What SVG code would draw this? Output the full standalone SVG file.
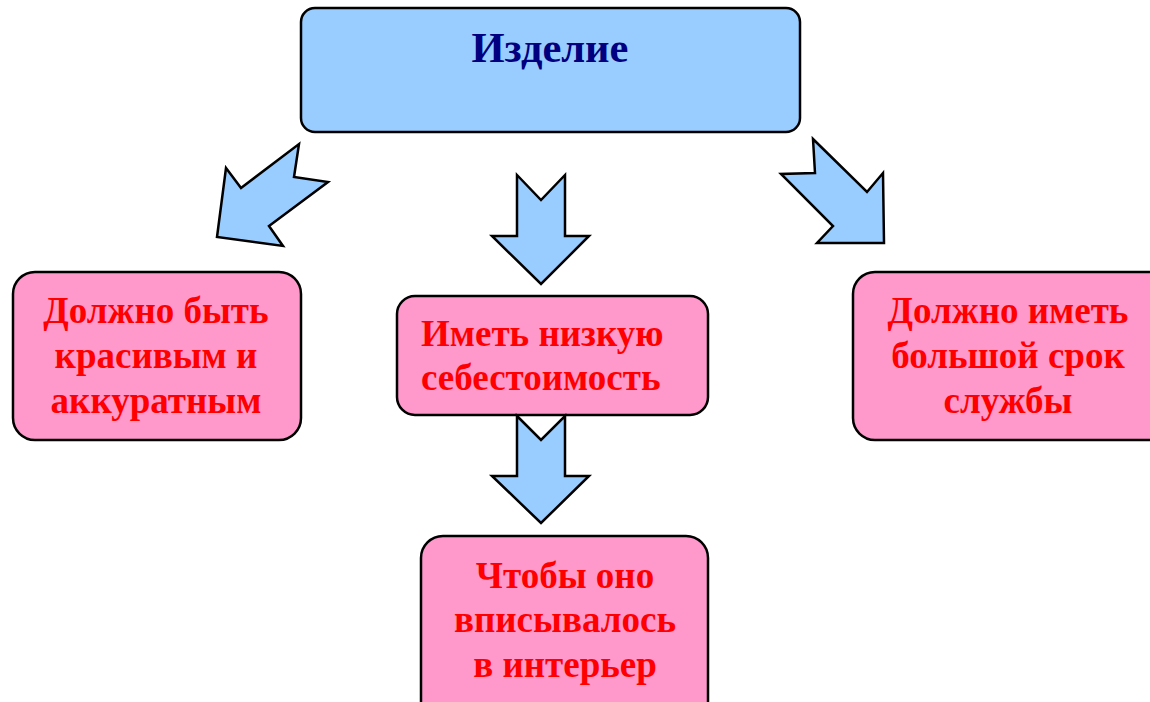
<svg xmlns="http://www.w3.org/2000/svg" width="1150" height="702" viewBox="0 0 1150 702">
<style>
.blue{fill:#99ccff;stroke:#000;stroke-width:2.5;stroke-linejoin:miter}
.pink{fill:#ff99cc;stroke:#000;stroke-width:2.5}
.t{font-family:"Liberation Serif","Times New Roman",serif;font-weight:bold;font-size:37px;fill:#ff0000}
.c{text-anchor:middle}
.title{font-family:"Liberation Serif","Times New Roman",serif;font-weight:bold;font-size:42.5px;fill:#000080;text-anchor:middle}
</style>
<rect width="1150" height="702" fill="#fff"/>
<g id="node-izdelie">
<rect class="blue" x="301" y="8" width="499" height="124" rx="14"/>
<text class="title" x="550" y="62">Изделие</text>
</g>
<g id="node-left">
<rect class="pink" x="13" y="272" width="288" height="168" rx="22"/>
<text class="t c" x="156" y="323">Должно быть</text>
<text class="t c" x="156" y="368">красивым и</text>
<text class="t c" x="156" y="413">аккуратным</text>
</g>
<g id="node-middle">
<rect class="pink" x="397" y="296" width="311" height="119" rx="18"/>
<text class="t" x="421" y="346">Иметь низкую</text>
<text class="t" x="421" y="390">себестоимость</text>
</g>
<g id="node-right">
<rect class="pink" x="853" y="272" width="320" height="168" rx="22"/>
<text class="t c" x="1008" y="323">Должно иметь</text>
<text class="t c" x="1008" y="368">большой срок</text>
<text class="t c" x="1008" y="413">службы</text>
</g>
<g id="node-bottom">
<rect class="pink" x="421" y="536" width="287" height="190" rx="22"/>
<text class="t c" x="565" y="588">Чтобы оно</text>
<text class="t c" x="565" y="632">вписывалось</text>
<text class="t c" x="565" y="677">в интерьер</text>
</g>
<g id="connectors">
<polygon class="blue" points="299,144 294,177 328,182 269,226 283,246 217,237 226,168 241,188"/>
<polygon class="blue" points="517,175 541,200 565,175 565,236 589,236 541,284 492,236 517,236"/>
<polygon class="blue" points="813,139 815,173 781,174 833,226 817,243 884,243 883,173 867,192"/>
<polygon class="blue" points="517,416 541,440 565,416 565,476 589,476 541,523 492,476 517,476"/>
</g>
</svg>
